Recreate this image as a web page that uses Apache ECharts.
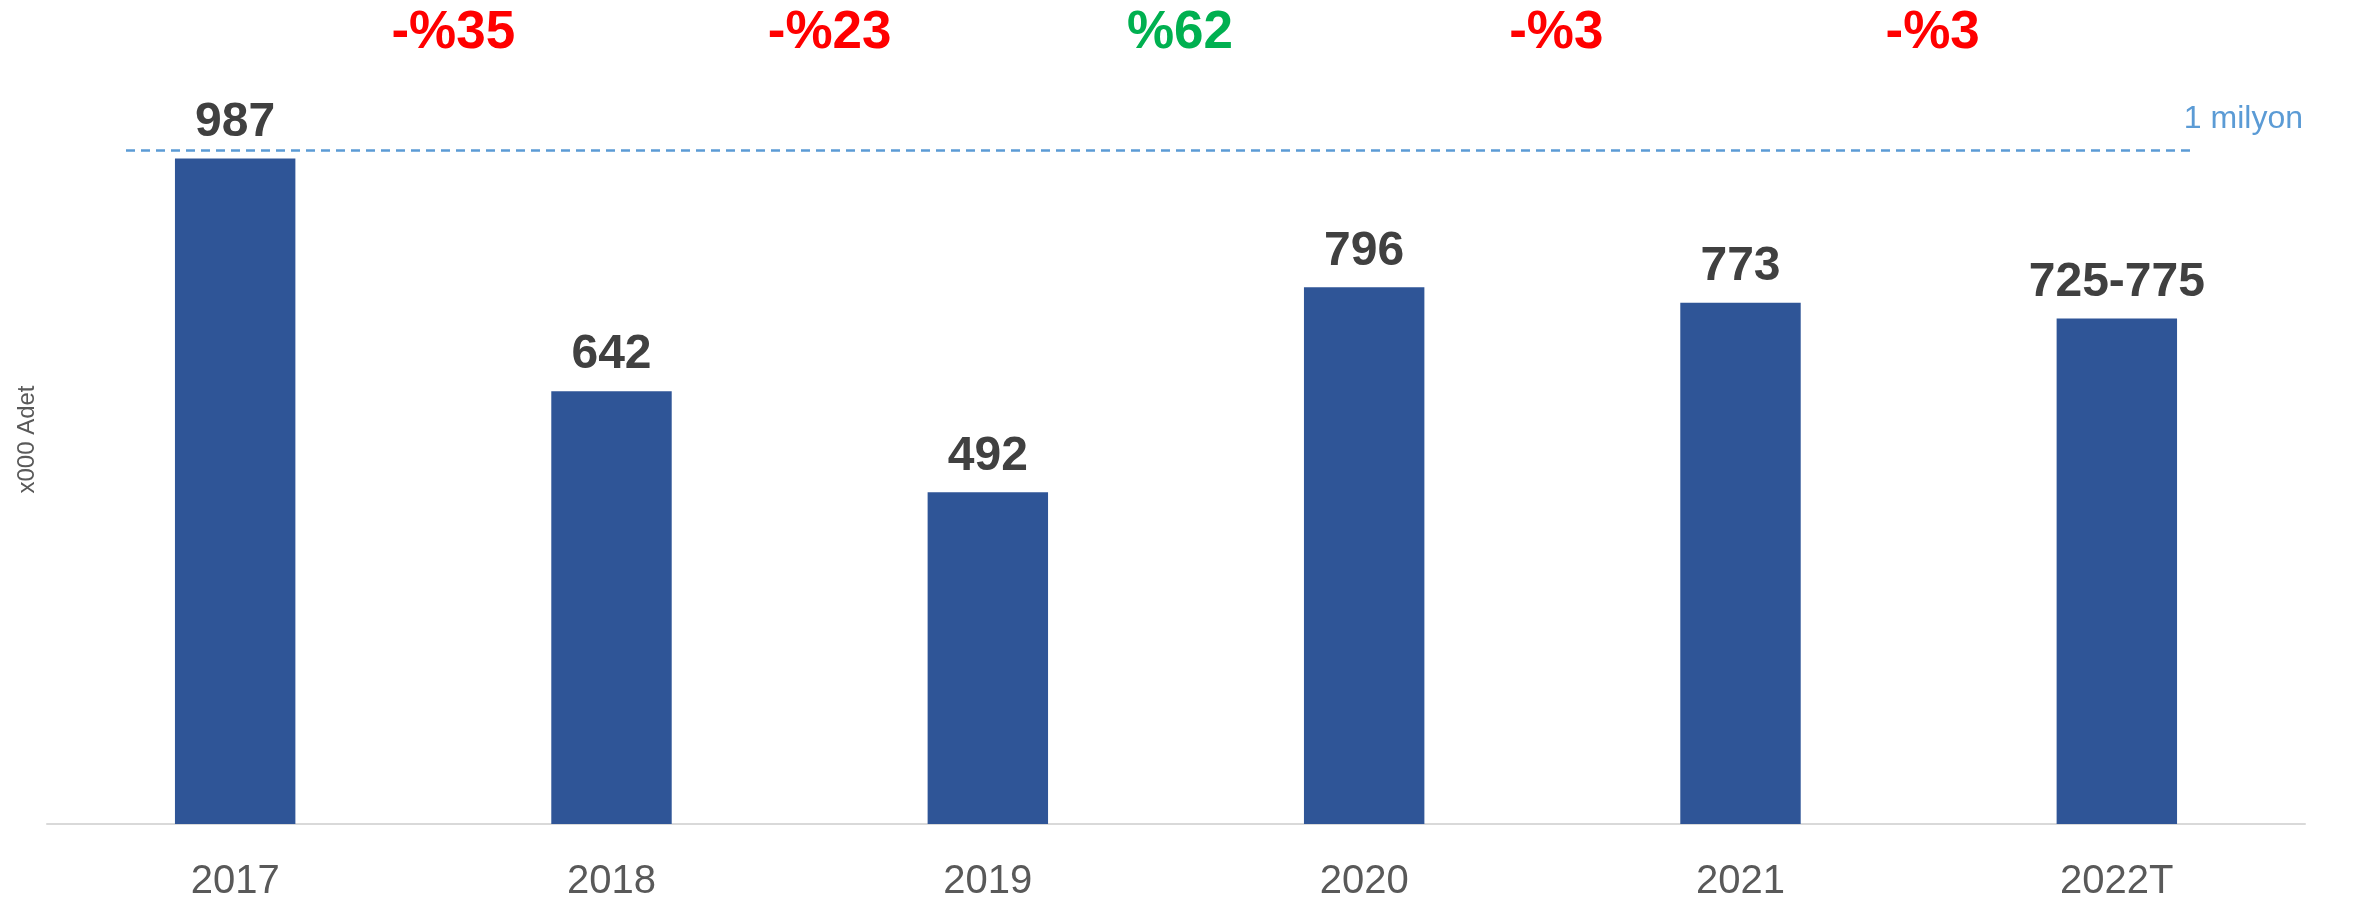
<!DOCTYPE html>
<html lang="tr">
<head>
    <meta charset="UTF-8">
    <title>Adet</title>
    <script src="https://cdn.jsdelivr.net/npm/echarts@6/dist/echarts.min.js"></script>
    <style>
        html, body { margin: 0; padding: 0; background: #fff; }
    </style>
</head>
<body>
    <div id="main" style="width: 2354px;height:904px;"></div>
    <script type="text/javascript">
        // data
        var years = ['2017', '2018', '2019', '2020', '2021', '2022T'];
        var values = [987, 642, 492, 796, 773, 750];
        var valueLabels = ['987', '642', '492', '796', '773', '725-775'];
        var changes = [-35, -23, 62, -3, -3];   // year over year, %
        var refValue = 1000;                     // 1 milyon

        // second axis: the borders between the years, so the change labels sit in between
        var borders = ['b0', 'b1', 'b2', 'b3', 'b4', 'b5', 'b6'];
        var changeData = changes.map(function (v, i) {
            return {
                value: [i + 1, 1172],
                label: {
                    formatter: (v < 0 ? '-' : '') + '%' + Math.abs(v),
                    color: v < 0 ? '#FF0000' : '#00B050',
                    offset: i < 2 ? [30, 0] : [4, 0]   // first two sit a bit to the right in the original
                }
            };
        });

        var myChart = echarts.init(document.getElementById('main'));
        var option = {
            animation: false,
            title: {
                text: '1 milyon',
                right: 46,
                top: 98,
                textStyle: {
                    color: '#5B9BD5',
                    fontSize: 32,
                    fontWeight: 'normal',
                    fontFamily: 'Liberation Sans'
                }
            },
            grid: { left: 47, right: 49, top: 15, bottom: 80, outerBoundsMode: 'none' },
            xAxis: [{
                type: 'category',
                data: years,
                axisLine: { lineStyle: { color: '#D9D9D9', width: 2 } },
                axisTick: { show: false },
                axisLabel: {
                    color: '#595959',
                    fontSize: 40,
                    fontFamily: 'Liberation Sans',
                    margin: 38
                }
            }, {
                type: 'category',
                data: borders,
                boundaryGap: false,
                show: false
            }],
            yAxis: {
                type: 'value',
                min: 0,
                max: 1200,
                name: 'x000 Adet',
                nameLocation: 'middle',
                nameRotate: 90,
                nameGap: 8,
                nameTextStyle: {
                    color: '#595959',
                    fontSize: 24,
                    fontFamily: 'Liberation Sans',
                    padding: [0, 40, 0, 0]
                },
                axisLine: { show: false },
                axisTick: { show: false },
                axisLabel: { show: false },
                splitLine: { show: false }
            },
            series: [{
                type: 'bar',
                data: values,
                barWidth: '32%',
                itemStyle: { color: '#2F5597' },
                label: {
                    show: true,
                    position: 'top',
                    distance: 12,
                    color: '#404040',
                    fontSize: 48,
                    fontWeight: 'bold',
                    fontFamily: 'Liberation Sans',
                    formatter: function (p) { return valueLabels[p.dataIndex]; }
                },
                markLine: {
                    silent: true,
                    symbol: 'none',
                    label: { show: false },
                    lineStyle: { color: '#5B9BD5', type: [9, 6], width: 2.5 },
                    data: [[{ yAxis: refValue, x: 126 }, { yAxis: refValue, x: 2192 }]]
                }
            }, {
                type: 'scatter',
                xAxisIndex: 1,
                data: changeData,
                symbolSize: 1,
                itemStyle: { color: 'rgba(0,0,0,0)', opacity: 1 },
                label: {
                    show: true,
                    position: 'inside',
                    fontSize: 53,
                    fontWeight: 'bold',
                    fontFamily: 'Liberation Sans'
                }
            }]
        };
        myChart.setOption(option);
    </script>
</body>
</html>
